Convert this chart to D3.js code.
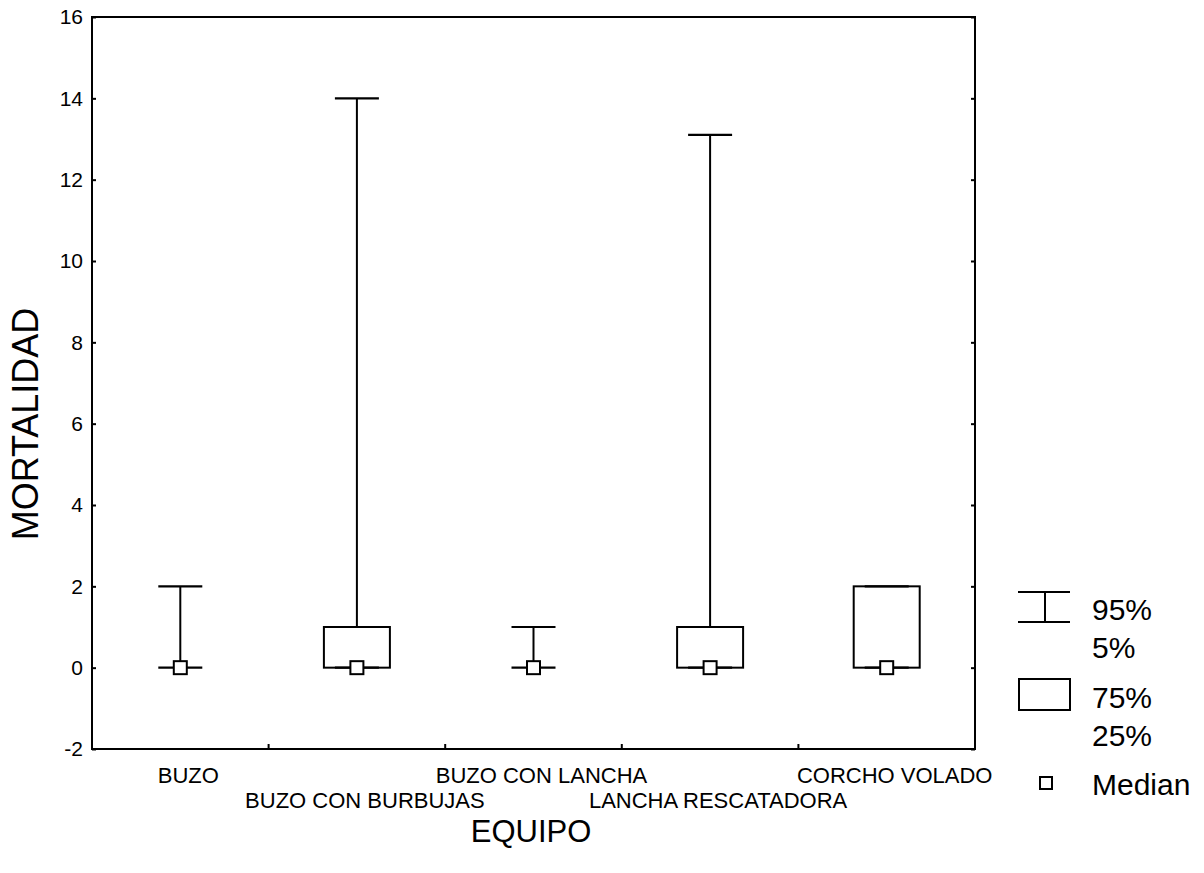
<!DOCTYPE html>
<html>
<head>
<meta charset="utf-8">
<script src="https://cdn.jsdelivr.net/npm/d3@7"></script>
<style>
  html, body { margin: 0; padding: 0; background: #fff; }
  svg { display: block; font-family: "Liberation Sans", Arial, sans-serif; }
</style>
</head>
<body>
<svg id="chart" width="1204" height="873"></svg>
<script>
// Mortality by equipment: percentile box plot
const categories = ["BUZO", "BUZO CON BURBUJAS", "BUZO CON LANCHA", "LANCHA RESCATADORA", "CORCHO VOLADO"];
const p05 = [0, 0, 0, 0, 0];
const p25 = [0, 0, 0, 0, 0];
const median = [0, 0, 0, 0, 0];
const p75 = [0, 1, 0, 1, 2];
const p95 = [2, 14, 1, 13.1, 2];
const yTicks = [-2, 0, 2, 4, 6, 8, 10, 12, 14, 16];
const legendLabels = [["95%", "5%"], ["75%", "25%"], ["Median"]];

const svg = d3.select("#chart");
const plotL = 92, plotR = 975, plotT = 17, plotB = 749;

const x = d3.scaleBand().domain(categories).range([plotL, plotR]).padding(0);
const y = d3.scaleLinear().domain([-2, 16]).range([plotB, plotT]);

const boxW = 66, capW = 44, medS = 13;
const stroke = "#000";

// frame
svg.append("rect")
  .attr("x", plotL).attr("y", plotT)
  .attr("width", plotR - plotL).attr("height", plotB - plotT)
  .attr("fill", "none").attr("stroke", stroke).attr("stroke-width", 2);

// left axis
const yAxisL = svg.append("g")
  .attr("transform", `translate(${plotL},0)`)
  .call(d3.axisLeft(y).tickValues(yTicks).tickFormat(d => String(d))
    .tickSizeInner(-4).tickSizeOuter(0).tickPadding(9));
yAxisL.select(".domain").remove();
yAxisL.selectAll("line").attr("stroke", stroke).attr("stroke-width", 2);
yAxisL.selectAll("text").attr("font-size", 21).attr("fill", "#000")
  .attr("font-family", "'Liberation Sans', Arial, sans-serif");

// right axis (ticks only)
const yAxisR = svg.append("g")
  .attr("transform", `translate(${plotR},0)`)
  .call(d3.axisRight(y).tickValues(yTicks).tickSizeInner(-4).tickSizeOuter(0).tickFormat(""));
yAxisR.select(".domain").remove();
yAxisR.selectAll("line").attr("stroke", stroke).attr("stroke-width", 2);

// bottom ticks at category boundaries
svg.append("g").selectAll("line")
  .data(categories.slice(1))
  .join("line")
  .attr("x1", d => x(d)).attr("x2", d => x(d))
  .attr("y1", plotB).attr("y2", plotB - 5)
  .attr("stroke", stroke).attr("stroke-width", 2);

// category labels, staggered in two rows
svg.append("g").selectAll("text")
  .data(categories)
  .join("text")
  .attr("x", d => x(d) + x.bandwidth() / 2 + 8)
  .attr("y", (d, i) => i % 2 === 0 ? 783 : 808)
  .attr("text-anchor", "middle")
  .attr("font-size", 22)
  .text(d => d);

// axis titles
svg.append("text")
  .attr("transform", `translate(38,424) rotate(-90)`)
  .attr("text-anchor", "middle")
  .attr("font-size", 36)
  .text("MORTALIDAD");

svg.append("text")
  .attr("x", 531)
  .attr("y", 842)
  .attr("text-anchor", "middle")
  .attr("font-size", 31)
  .text("EQUIPO");

// boxes and whiskers
const g = svg.append("g");
categories.forEach((c, i) => {
  const cx = x(c) + x.bandwidth() / 2;
  // whisker stems
  g.append("line")
    .attr("x1", cx).attr("x2", cx)
    .attr("y1", y(p95[i])).attr("y2", y(p75[i]))
    .attr("stroke", stroke).attr("stroke-width", 2);
  g.append("line")
    .attr("x1", cx).attr("x2", cx)
    .attr("y1", y(p25[i])).attr("y2", y(p05[i]))
    .attr("stroke", stroke).attr("stroke-width", 2);
  // caps
  [p95[i], p05[i]].forEach(v => {
    g.append("line")
      .attr("x1", cx - capW / 2).attr("x2", cx + capW / 2)
      .attr("y1", y(v)).attr("y2", y(v))
      .attr("stroke", stroke).attr("stroke-width", 2.2);
  });
  // box
  g.append("rect")
    .attr("x", cx - boxW / 2)
    .attr("y", y(p75[i]))
    .attr("width", boxW)
    .attr("height", Math.max(0, y(p25[i]) - y(p75[i])))
    .attr("fill", "none")
    .attr("stroke", stroke).attr("stroke-width", 2);
  // median
  g.append("rect")
    .attr("x", cx - medS / 2)
    .attr("y", y(median[i]) - medS / 2)
    .attr("width", medS).attr("height", medS)
    .attr("fill", "#fff")
    .attr("stroke", stroke).attr("stroke-width", 2);
});

// legend
const lg = svg.append("g");
// whisker symbol
lg.append("line").attr("x1", 1018).attr("x2", 1070).attr("y1", 592).attr("y2", 592)
  .attr("stroke", stroke).attr("stroke-width", 2);
lg.append("line").attr("x1", 1018).attr("x2", 1070).attr("y1", 622).attr("y2", 622)
  .attr("stroke", stroke).attr("stroke-width", 2);
lg.append("line").attr("x1", 1045).attr("x2", 1045).attr("y1", 592).attr("y2", 622)
  .attr("stroke", stroke).attr("stroke-width", 2);
// box symbol
lg.append("rect").attr("x", 1019).attr("y", 679).attr("width", 51).attr("height", 31)
  .attr("fill", "none").attr("stroke", stroke).attr("stroke-width", 2);
// median symbol
lg.append("rect").attr("x", 1040).attr("y", 777).attr("width", 12).attr("height", 12)
  .attr("fill", "#fff").attr("stroke", stroke).attr("stroke-width", 2);

const legendRows = [
  [legendLabels[0][0], 620], [legendLabels[0][1], 658],
  [legendLabels[1][0], 708], [legendLabels[1][1], 746],
  [legendLabels[2][0], 795]
];
lg.selectAll("text.lbl")
  .data(legendRows)
  .join("text")
  .attr("class", "lbl")
  .attr("x", 1092)
  .attr("y", d => d[1])
  .attr("font-size", 30)
  .text(d => d[0]);
</script>
</body>
</html>
